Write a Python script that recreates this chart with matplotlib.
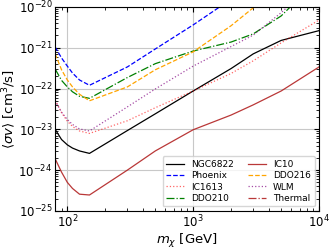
import numpy as np
import matplotlib
matplotlib.use('Agg')
import matplotlib.pyplot as plt

# dark matter mass grid [GeV]
mass = [80, 90, 100, 110, 125, 150, 300, 500, 1000, 2000, 3000, 5000, 10000]

# log10 of <sigma v> limits [cm^3/s]
ngc6822 = [-23.00, -23.25, -23.38, -23.46, -23.53, -23.59, -23.03, -22.62, -22.06, -21.51, -21.15, -20.82, -20.58]
phoenix = [-20.98, -21.25, -21.45, -21.62, -21.79, -21.92, -21.47, -21.03, -20.44, -19.81, -19.45, -19.00, -18.30]
ic1613 = [-22.28, -22.59, -22.80, -22.93, -23.04, -23.10, -22.79, -22.47, -22.06, -21.63, -21.32, -20.88, -20.32]
ddo210 = [-21.52, -21.80, -21.96, -22.08, -22.19, -22.24, -21.73, -21.39, -21.08, -20.86, -20.66, -20.22, -19.30]
ic10 = [-23.72, -24.05, -24.30, -24.45, -24.59, -24.61, -24.00, -23.53, -23.01, -22.65, -22.40, -22.06, -21.47]
ddo216 = [-21.15, -21.54, -21.79, -21.96, -22.14, -22.30, -21.96, -21.54, -21.10, -20.46, -20.02, -19.50, -18.80]
wlm = [-22.30, -22.58, -22.76, -22.88, -22.99, -23.04, -22.45, -22.01, -21.45, -20.97, -20.69, -20.14, -19.30]
thermal = [-25.65] * len(mass)

names = ['NGC6822', 'Phoenix', 'IC1613', 'DDO210', 'IC10', 'DDO216', 'WLM', 'Thermal']
curves = [ngc6822, phoenix, ic1613, ddo210, ic10, ddo216, wlm, thermal]
colors = ['black', 'blue', 'red', 'green', 'firebrick', 'orange', 'purple', 'firebrick']
styles = ['-', '--', ':', '-.', '-', '--', ':', '-.']
alphas = [1, 1, 0.6, 1, 0.9, 1, 0.7, 0.9]

fig = plt.figure(figsize=(3.32, 2.49), dpi=100)
ax = fig.add_axes([0.166, 0.153, 0.795, 0.819])

for i in range(len(names)):
	ax.plot(mass, 10**np.array(curves[i]), color=colors[i], ls=styles[i], lw=0.9, alpha=alphas[i], label=names[i])

ax.set_xscale('log')
ax.set_yscale('log')
ax.set_xlim(80, 1e4)
ax.set_ylim(1e-25, 1e-20)
ax.grid(True, which='major', color='#c8c8c8', lw=0.8)
ax.tick_params(which='both', direction='in', top=True, right=True, labelsize=8.5, pad=2)
ax.set_xlabel(r'$m_\chi$ [GeV]', fontsize=9.5, labelpad=1)
ax.set_ylabel(r'$\langle\sigma v\rangle$ [cm$^3$/s]', fontsize=9.5, labelpad=0)
ax.legend(loc='lower right', ncol=2, fontsize=6.5, handlelength=2, columnspacing=1.5,
	labelspacing=0.25, borderpad=0.4, framealpha=0.8)

plt.savefig('out.png', dpi=100)
